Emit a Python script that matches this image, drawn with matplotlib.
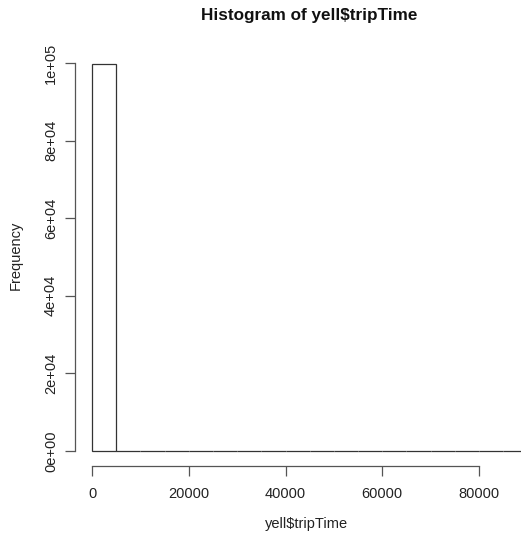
import numpy as np
import matplotlib.pyplot as plt

# Histogramm-Daten (Bins mit Breite 5000)
bin_edges = [0, 5000, 10000, 15000, 20000, 25000, 30000, 35000, 40000, 45000,
             50000, 55000, 60000, 65000, 70000, 75000, 80000, 85000, 90000]
counts = [99780, 15, 4, 2, 1, 1, 0, 1, 0, 0, 0, 0, 1, 0, 0, 0, 60, 70]
x_ticks = [0, 20000, 40000, 60000, 80000]
y_ticks = [0, 20000, 40000, 60000, 80000, 100000]
y_labels = ['0e+00', '2e+04', '4e+04', '6e+04', '8e+04', '1e+05']

plt.rcParams['font.family'] = ['Liberation Sans', 'DejaVu Sans']

fig = plt.figure(figsize=(5.21, 5.43), dpi=100)
ax = fig.add_axes([0.1432, 0.1409, 0.9025, 0.770])

lefts = np.array(bin_edges[:-1])
widths = np.diff(bin_edges)
ax.bar(lefts, counts, width=widths, align='edge', facecolor='white',
       edgecolor='#333333', linewidth=0.9)

# R-Achsen: 4% Erweiterung
xr = bin_edges[-1] - bin_edges[0]
ax.set_xlim(bin_edges[0] - 0.04 * xr, bin_edges[-1] + 0.04 * xr)
yr = max(counts)
ax.set_ylim(-0.04 * yr, yr * 1.04)

for s in ['top', 'right']:
    ax.spines[s].set_visible(False)
ax.spines['bottom'].set_bounds(x_ticks[0], x_ticks[-1])
ax.spines['left'].set_bounds(y_ticks[0], y_ticks[-1])
for s in ['bottom', 'left']:
    ax.spines[s].set_color('#555555')
    ax.spines[s].set_linewidth(0.9)

ax.set_xticks(x_ticks)
ax.set_xticklabels([str(t) for t in x_ticks])
ax.set_yticks(y_ticks)
ax.set_yticklabels(y_labels, rotation=90, va='center')
ax.tick_params(axis='both', length=7, width=0.9, color='#555555',
               labelsize=10.5, labelcolor='#222222')
ax.tick_params(axis='x', pad=8)
ax.tick_params(axis='y', pad=5)

fig.text(0.594, 0.972, 'Histogram of yell$tripTime', ha='center', va='center',
         fontsize=12.3, fontweight='bold', color='#111111')
fig.text(0.588, 0.035, 'yell$tripTime', ha='center', va='center', fontsize=10.5,
         color='#222222')
fig.text(0.03, 0.53, 'Frequency', ha='center', va='center', rotation=90,
         fontsize=10.5, color='#222222')

plt.savefig('out.png', dpi=100)
